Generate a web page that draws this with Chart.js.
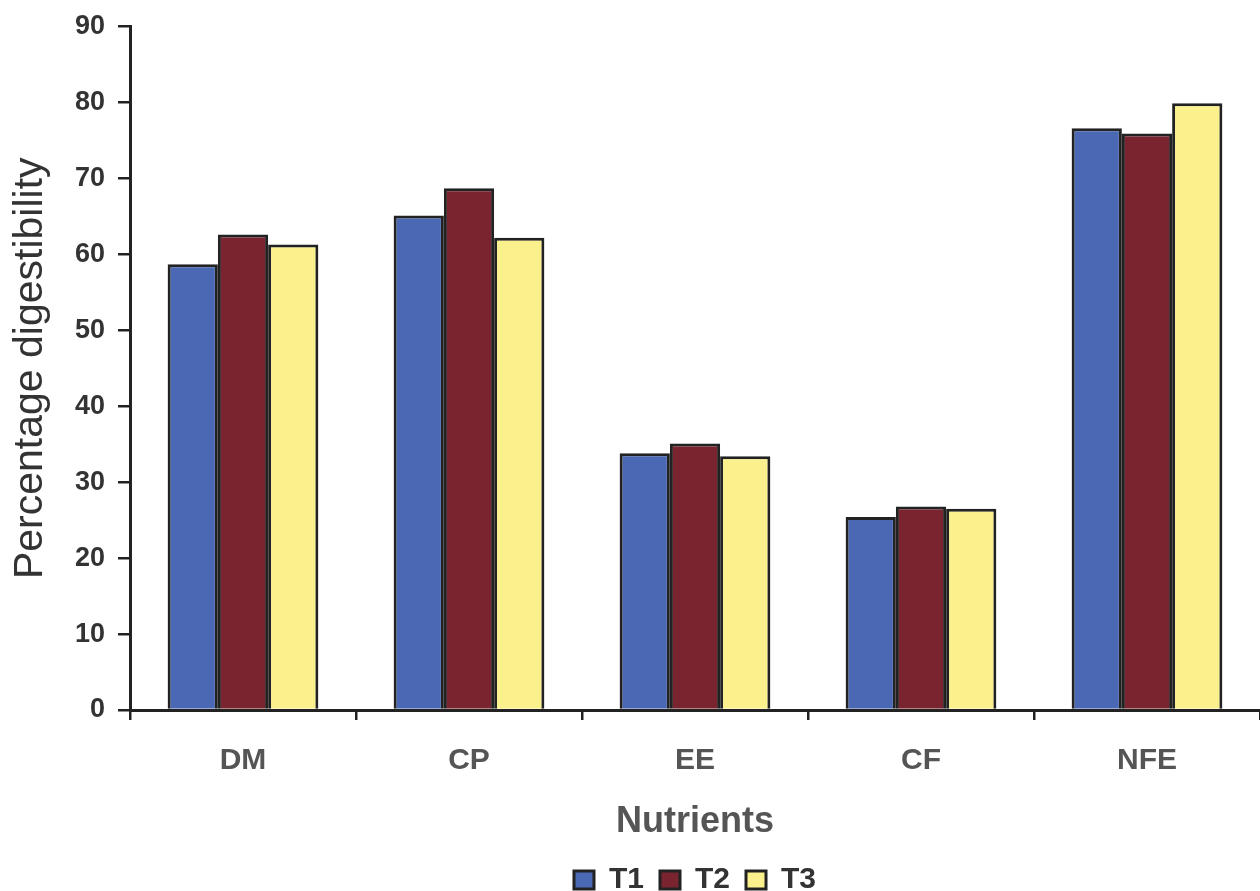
<!DOCTYPE html>
<html>
<head>
<meta charset="utf-8">
<script src="https://cdn.jsdelivr.net/npm/chart.js@4"></script>
<style>
  html, body { margin: 0; padding: 0; background: #ffffff; }
  #wrap { width: 1260px; height: 891px; }
</style>
</head>
<body>
<div id="wrap"><canvas id="c" width="1260" height="891"></canvas></div>
<script>
const categories = ['DM', 'CP', 'EE', 'CF', 'NFE'];
const seriesNames = ['T1', 'T2', 'T3'];
const t1Values = [58.7, 65.1, 33.8, 25.4, 76.6];
const t2Values = [62.6, 68.7, 35.1, 26.8, 75.9];
const t3Values = [61.3, 62.2, 33.4, 26.5, 79.9];
const yTicks = [0, 10, 20, 30, 40, 50, 60, 70, 80, 90];
const seriesColors = ['#4a68b3', '#7a2430', '#faf08c'];

const FONT = "'Liberation Sans', Arial, sans-serif";

new Chart(document.getElementById('c'), {
  type: 'bar',
  data: {
    labels: categories,
    datasets: [t1Values, t2Values, t3Values].map((vals, i) => ({
      label: seriesNames[i],
      data: vals,
      backgroundColor: seriesColors[i],
      borderColor: '#222222',
      borderWidth: 3,
      barPercentage: 1.0,
      categoryPercentage: 0.667
    }))
  },
  options: {
    responsive: false,
    animation: false,
    devicePixelRatio: 1,
    layout: { padding: { top: 25, right: 0, bottom: -14, left: 0 } },
    plugins: {
      tooltip: { enabled: false },
      legend: {
        position: 'bottom',
        fullSize: false,
        labels: {
          font: { family: FONT, size: 30, weight: 'bold' },
          color: '#333333',
          boxWidth: 20,
          boxHeight: 18,
          padding: 16
        }
      }
    },
    scales: {
      x: {
        afterFit: (s) => { s.height = 139; },
        border: { display: true, color: '#222222', width: 3 },
        grid: { display: true, drawOnChartArea: false, drawTicks: true, tickLength: 10, color: '#222222', lineWidth: 2.5, offset: true },
        ticks: { font: { family: FONT, size: 30, weight: 'bold' }, color: '#555555', padding: 23 },
        title: { display: true, text: 'Nutrients', font: { family: FONT, size: 36, weight: 'bold' }, color: '#555555', padding: { top: 0, bottom: 5 } }
      },
      y: {
        min: 0,
        max: 90,
        afterFit: (s) => { s.width = 130; },
        afterBuildTicks: (s) => { s.ticks = yTicks.map(v => ({ value: v })); },
        border: { display: true, color: '#222222', width: 3 },
        grid: { display: true, drawOnChartArea: false, drawTicks: true, tickLength: 12, color: '#222222', lineWidth: 2.5 },
        ticks: { font: { family: FONT, size: 27, weight: 'bold', lineHeight: 1 }, color: '#333333', padding: 13, stepSize: 10 },
        title: { display: true, text: 'Percentage digestibility', font: { family: FONT, size: 41, weight: 'normal' }, color: '#333333', padding: { top: 6, bottom: 0 } }
      }
    }
  }
});
</script>
</body>
</html>
